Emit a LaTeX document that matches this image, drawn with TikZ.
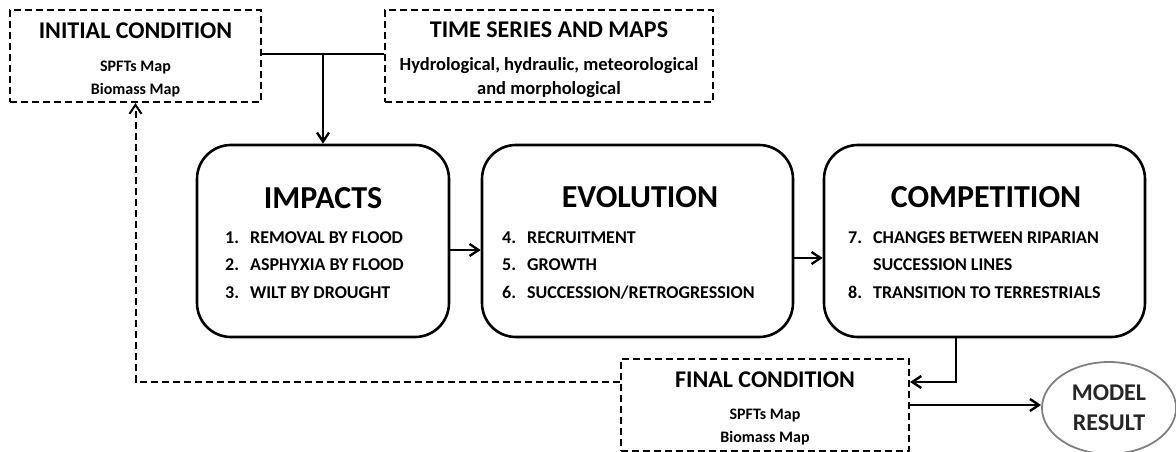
\documentclass[tikz,border=0pt]{standalone}
\usepackage{fontspec}
\setmainfont{Carlito}
\usetikzlibrary{arrows.meta}
\usetikzlibrary{shapes.geometric}
\usetikzlibrary{positioning}

\begin{document}
\begin{tikzpicture}
          [x=1pt, y=-1pt, font=\bfseries,
           dbox/.style={draw, line width=2.2pt, dash pattern=on 7pt off 4pt, inner sep=0pt},
           pbox/.style={draw, line width=2.6pt, rounded corners=34pt, minimum height=192pt},
           head/.style={font=\bfseries\fontsize{24}{26}\selectfont},
           ttl/.style={font=\bfseries\fontsize{32}{34}\selectfont},
           lst/.style={font=\bfseries\fontsize{18}{27.5}\selectfont, anchor=base west, inner sep=0pt},
           link/.style={line width=2.4pt, ->},
           >={Straight Barb[length=9pt,width=12pt]}]
          \useasboundingbox (0,0) rectangle (1176,452);

          \node (init) [dbox, minimum width=251pt, minimum height=92pt] at (135.5,56) {};
          \node (initT) [head] at (135.5,31) {INITIAL CONDITION};
          \node (initL) [font=\bfseries\fontsize{16}{23}\selectfont, align=center] at (135.5,79) {SPFTs Map\\Biomass Map};

          \node (ts) [dbox, minimum width=328pt, minimum height=92pt] at (549,56) {};
          \node (tsT) [head] at (549,30) {TIME SERIES AND MAPS};
          \node (tsL) [font=\bfseries\fontsize{18.5}{24}\selectfont, align=center] at (549,78) {Hydrological, hydraulic, meteorological\\and morphological};

          \node (imp) [pbox, minimum width=252pt] at (323,241) {};
          \node (impT) [ttl] at (323,198) {IMPACTS};
          \node (impL) [lst] at (225,243) {\begin{tabular}[t]{@{}l@{\hspace{11pt}}l@{}}1. & REMOVAL BY FLOOD\\2. & ASPHYXIA BY FLOOD\\3. & WILT BY DROUGHT\end{tabular}};

          \node (evo) [pbox, minimum width=311pt] at (637.5,241) {};
          \node (evoT) [ttl] at (640,197) {EVOLUTION};
          \node (evoL) [lst] at (502,243) {\begin{tabular}[t]{@{}l@{\hspace{11pt}}l@{}}4. & RECRUITMENT\\5. & GROWTH\\6. & SUCCESSION/RETROGRESSION\end{tabular}};

          \node (comp) [pbox, minimum width=321pt] at (984.5,241) {};
          \node (compT) [ttl] at (986,197) {COMPETITION};
          \node (compL) [lst] at (848,243) {\begin{tabular}[t]{@{}l@{\hspace{11pt}}l@{}}7. & CHANGES BETWEEN RIPARIAN\\ & SUCCESSION LINES\\8. & TRANSITION TO TERRESTRIALS\end{tabular}};

          \node (fin) [dbox, minimum width=288pt, minimum height=92pt] at (765,405) {};
          \node (finT) [head] at (765,380) {FINAL CONDITION};
          \node (finL) [font=\bfseries\fontsize{16}{23}\selectfont, align=center] at (765,427) {SPFTs Map\\Biomass Map};

          \node (res) [draw=black!50, line width=1.8pt, ellipse, inner sep=0pt, minimum width=134pt, minimum height=92pt,
                       align=center, font=\bfseries\fontsize{24}{30}\selectfont, text=black!85] at (1109,408) {MODEL\\RESULT};

          \coordinate (j) at (323,54);
          \draw[line width=2pt] (init.east |- j) -- (ts.west |- j);
          \draw[link] (j) -- (imp.north);
          \draw[link] ([yshift=-9pt]imp.east) -- ([yshift=-9pt]imp.east -| evo.west);
          \draw[link] ([yshift=-17pt]evo.east) -- ([yshift=-17pt]evo.east -| comp.west);
          \draw[link] ([xshift=-28.5pt]comp.south) |- ([yshift=23pt]fin.east);
          \draw[link] (fin.east) -- (fin.east -| res.west);
          \draw[line width=2pt, dash pattern=on 7pt off 4pt, ->] ([yshift=23pt]fin.west) -| (init.south);

        \end{tikzpicture}
\end{document}
